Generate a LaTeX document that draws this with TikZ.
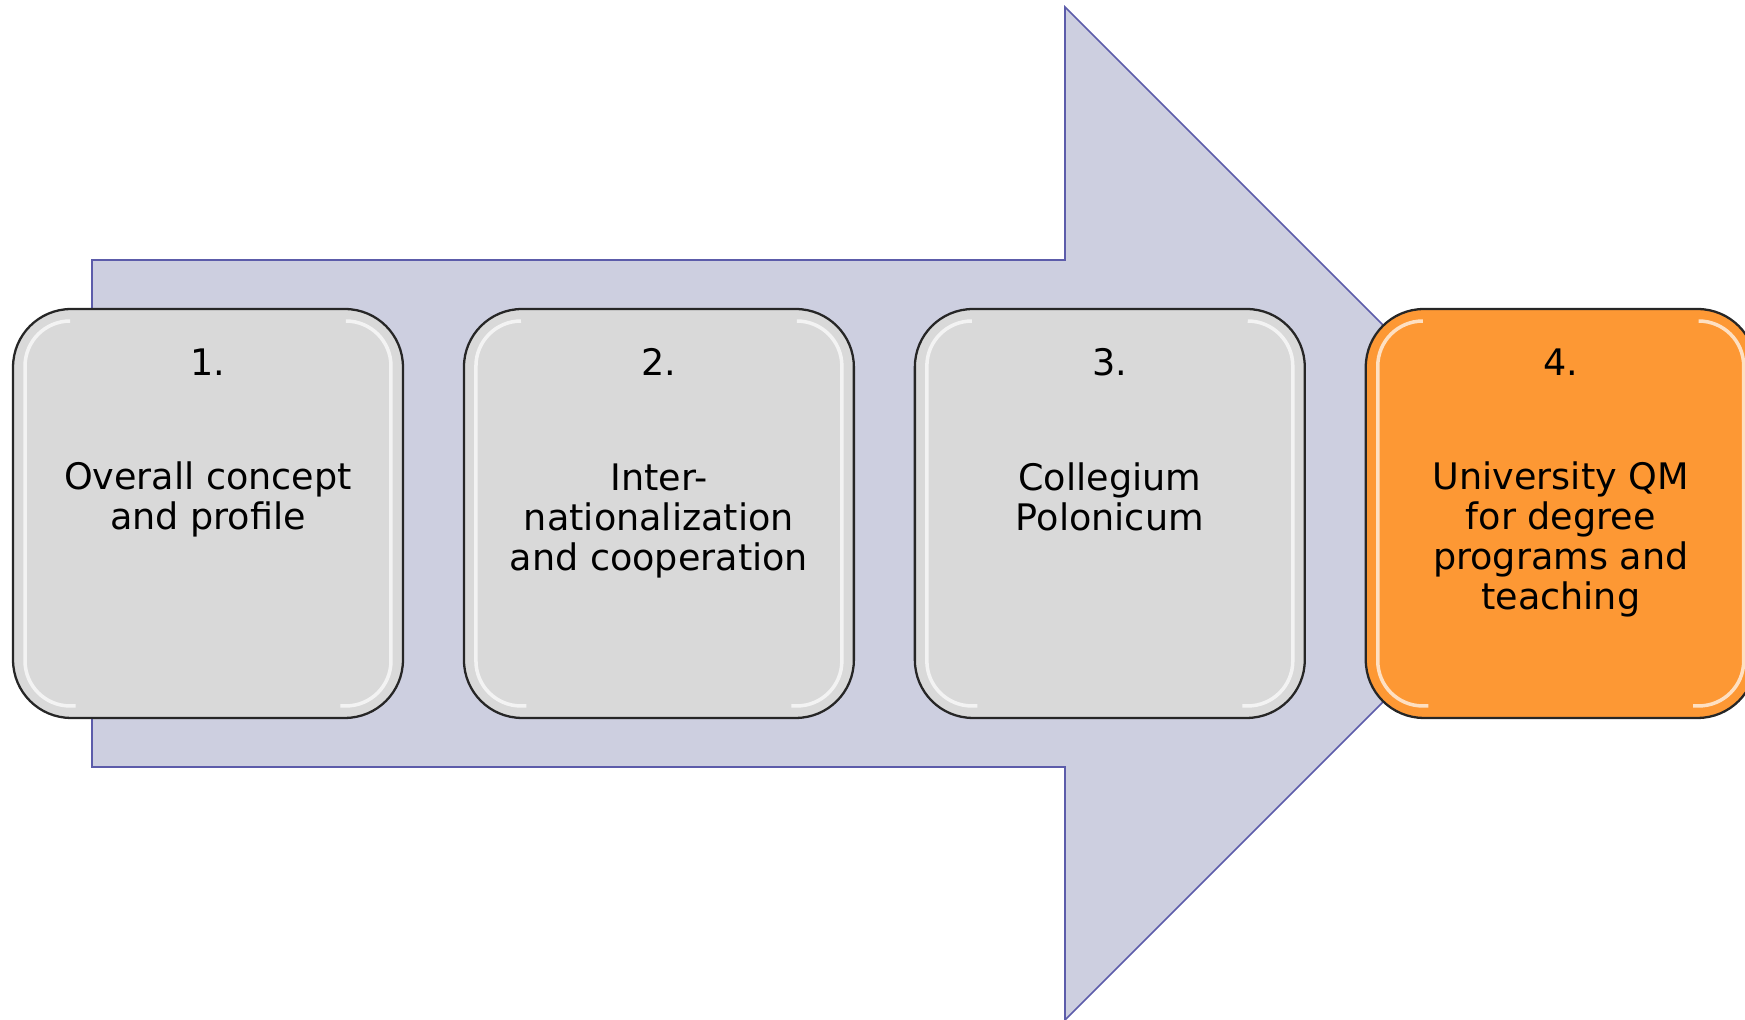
\documentclass[tikz,border=0pt]{standalone}
\usepackage{fontspec}
\setmainfont{DejaVu Sans}
\usetikzlibrary{positioning}

\definecolor{arrowfill}{RGB}{205,207,224}
\definecolor{arrowline}{RGB}{92,92,170}
\definecolor{boxgray}{RGB}{217,217,217}
\definecolor{boxorange}{RGB}{253,152,52}

\begin{document}
\begin{tikzpicture}[x=0.02cm,y=0.02cm,
  stage/.style={draw=black!85, line width=1.3pt, fill=boxgray, rounded corners=1.16cm,
    minimum width=7.8cm, minimum height=8.18cm, inner sep=0pt, outer sep=0pt},
  stagetext/.style={align=center, inner sep=0pt, font=\fontsize{20.8pt}{22.76pt}\selectfont},
  shine/.style={white, line width=2pt, opacity=0.7, rounded corners=0.9cm}]

  \useasboundingbox (0,0) rectangle (1745,1020);
  \clip (0,0) rectangle (1745,1020);

  % big arrow behind the steps
  \draw[arrowline, fill=arrowfill, line width=0.9pt]
    (92,760) -- (1065,760) -- (1065,1013) -- (1571.5,506.5)
    -- (1065,0) -- (1065,253) -- (92,253) -- cycle;

  \node[stage] (b1) at (208,506.5) {};
  \node[stage] (b2) [right=1.22cm of b1] {};
  \node[stage] (b3) [right=1.22cm of b2] {};
  \node[stage, fill=boxorange] (b4) [right=1.22cm of b3] {};

  % glossy edges
  \foreach \b in {b1,b2,b3,b4} {
    \draw[shine] ([xshift=1.05cm,yshift=-0.24cm]\b.north west) -- ([xshift=0.24cm,yshift=-0.24cm]\b.north west)
      -- ([xshift=0.24cm,yshift=0.24cm]\b.south west) -- ([xshift=1.25cm,yshift=0.24cm]\b.south west);
    \draw[shine] ([xshift=-1.05cm,yshift=-0.24cm]\b.north east) -- ([xshift=-0.24cm,yshift=-0.24cm]\b.north east)
      -- ([xshift=-0.24cm,yshift=0.24cm]\b.south east) -- ([xshift=-1.25cm,yshift=0.24cm]\b.south east);
  }

  \node[stagetext] (t1) [below=0.78cm of b1.north] {1.\\[42.6pt]Overall concept\\and profile};
  \node[stagetext] (t2) [below=0.78cm of b2.north] {2.\\[42.6pt]Inter-\\nationalization\\and cooperation};
  \node[stagetext] (t3) [below=0.78cm of b3.north] {3.\\[42.6pt]Collegium\\Polonicum};
  \node[stagetext] (t4) [below=0.78cm of b4.north] {4.\\[42.6pt]University QM\\for degree\\programs and\\teaching};

\end{tikzpicture}
\end{document}
